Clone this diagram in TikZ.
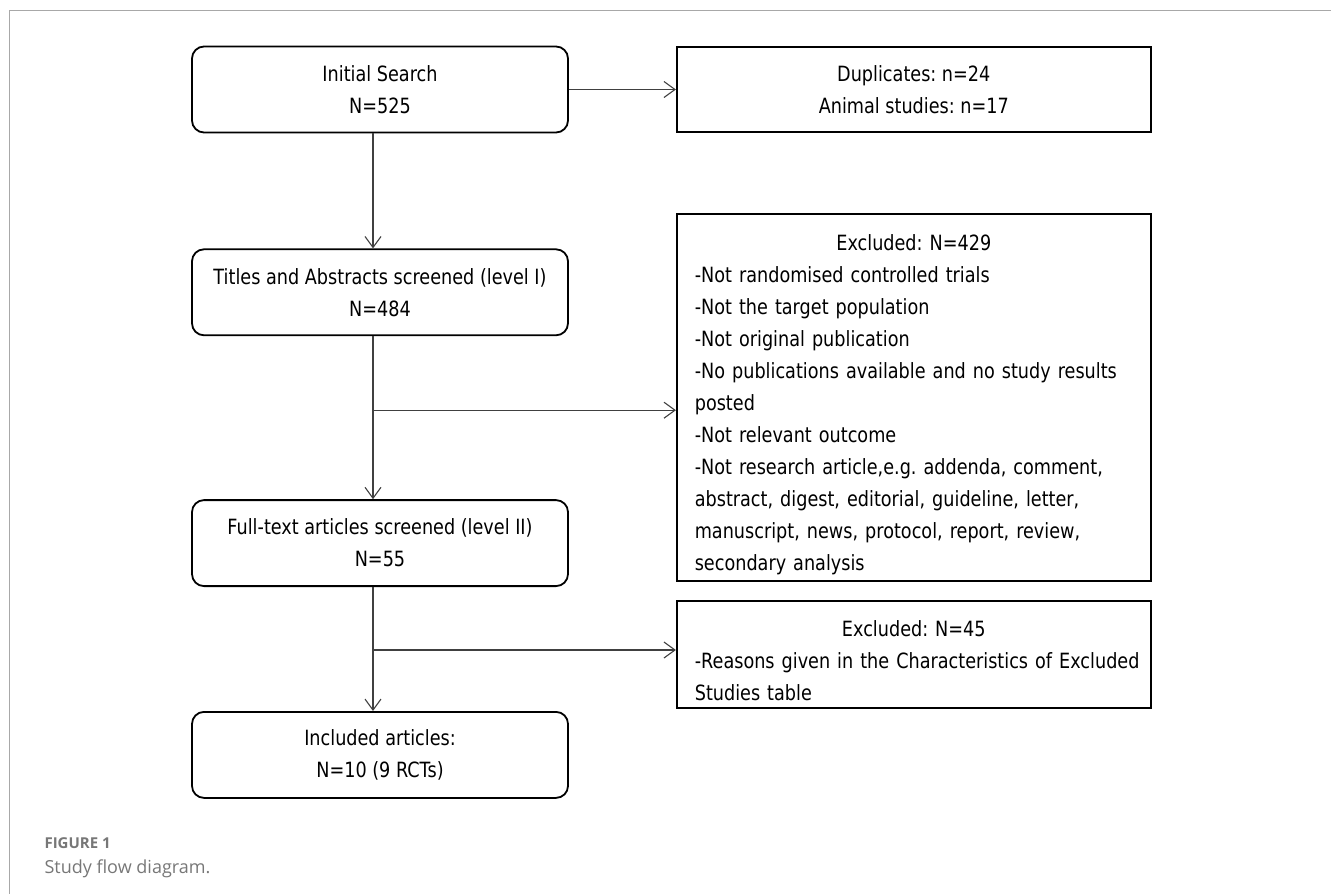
\documentclass[tikz,border=0pt]{standalone}
\usepackage{fontspec}
\setmainfont{DejaVu Sans}[FakeStretch=0.84]
\newfontfamily\capfont{Open Sans}
\usetikzlibrary{arrows.meta,calc,positioning}

\definecolor{capgray}{HTML}{777777}
\definecolor{framegray}{HTML}{A8A8A8}
\newcommand{\boxtitle}[1]{\makebox[\hsize][c]{#1}}
\frenchspacing
\hyphenpenalty=10000

\begin{document}
\begin{tikzpicture}[x=1pt,y=-1pt,>={Straight Barb[length=11pt,width=16pt]},
    font=\fontsize{21}{32}\selectfont,
    stage/.style={draw,line width=1.8pt,rounded corners=12pt,minimum width=376pt,minimum height=86pt,align=center,inner sep=0pt,
      execute at begin node=\rule{0pt}{29pt}},
    note/.style={draw,line width=1.8pt,minimum width=474pt,minimum height=85pt,align=center,inner sep=0pt},
    reason/.style={draw,line width=1.8pt,text width=438pt,inner xsep=18pt,align=left,
      execute at begin node=\rule{0pt}{30pt}},
    link/.style={->,line width=1.1pt,black!75}]
\useasboundingbox (0,0) rectangle (1331,894);
% frame
\draw[framegray,line width=1.5pt] (9.5,894) |- (1331,10.5);

% main column
\node[stage] (init) at (380,89.5) {Initial Search\\N=525};
\node[stage,below=115pt of init] (titles) {Titles and Abstracts screened (level I)\\N=484};
\node[stage,below=163pt of titles] (full) {Full-text articles screened (level II)\\N=55};
\node[stage,below=124pt of full] (incl) {Included articles:\\N=10 (9 RCTs)};

% side boxes
\node[note,right=107pt of init] (dup) {Duplicates: n=24\\Animal studies: n=17};
\node[reason,minimum height=367pt,below=80pt of dup] (excl) {\boxtitle{Excluded: N=429}\\
-Not randomised controlled trials\\
-Not the target population\\
-Not original publication\\
-No publications available and no study results\\
posted\\
-Not relevant outcome\\
-Not research article,e.g. addenda, comment,\\
abstract, digest, editorial, guideline, letter,\\
manuscript, news, protocol, report, review,\\
secondary analysis};
\node[reason,minimum height=107pt,below=18pt of excl] (exclft) {\boxtitle{Excluded: N=45}\\
\mbox{-Reasons given in the Characteristics of Excluded}\\
Studies table};

% connectors
\coordinate (trunk) at ([xshift=-7pt]init.south);
\coordinate (fork1) at ($(titles.south -| trunk)+(0pt,-74pt)$);
\coordinate (fork2) at ($(full.south -| trunk)+(0pt,-63pt)$);
\draw[link] (init.east) -- (dup.west);
\draw[link] (trunk) -- (titles.north -| trunk);
\draw[link] (titles.south -| trunk) -- (full.north -| trunk);
\draw[link] (full.south -| trunk) -- (incl.north -| trunk);
\draw[link] (fork1) -- (fork1 -| excl.west);
\draw[link] (fork2) -- (fork2 -| exclft.west);

% caption
\node[anchor=base west,text=capgray,font=\capfont\bfseries\fontsize{15}{18}\selectfont] (fig) at (41,848) {FIGURE 1};
\node[anchor=base west,text=capgray,font=\capfont\fontsize{18}{22}\selectfont] (cap) at (41,873) {Study flow diagram.};
\end{tikzpicture}
\end{document}
